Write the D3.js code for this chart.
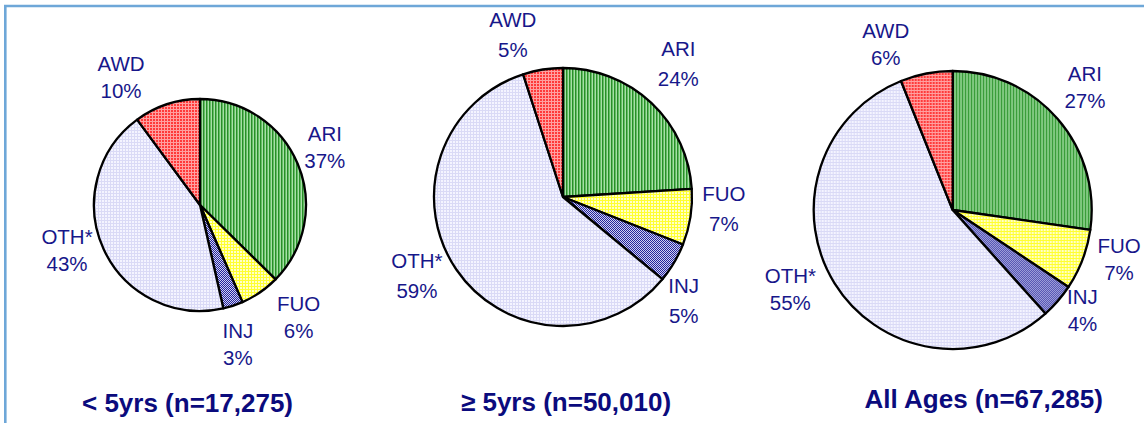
<!DOCTYPE html>
<html>
<head>
<meta charset="utf-8">
<script src="https://cdn.jsdelivr.net/npm/d3@7"></script>
<style>
  html, body { margin: 0; padding: 0; background: #ffffff; }
  svg { display: block; }
</style>
</head>
<body>
<svg id="chart" width="1144" height="423"></svg>
<script>
// ---- data ----
const categories = ["ARI", "FUO", "INJ", "OTH*", "AWD"];
const under5Values = [37, 6, 3, 43, 10];
const over5Values = [24, 7, 5, 59, 5];
const allAgesValues = [27, 7, 4, 55, 6];
const pieTitles = ["< 5yrs (n=17,275)", "\u2265 5yrs (n=50,010)", "All Ages (n=67,285)"];
const seriesList = [under5Values, over5Values, allAgesValues];

// ---- layout ----
const layout = [
  { cx: 200, cy: 205, r: 106, gap: 27, titleX: 187.5, titleY: 411.5,
    nudge: [[-8, -2], [17, -6], [-7, 3], [-2, -14], [-34, 9]] },
  { cx: 563, cy: 197, r: 129, gap: 30, titleX: 566, titleY: 410.5,
    nudge: [[1, -11], [-4, -14], [-23, 19], [-8, -15], [-24, 3]] },
  { cx: 952.7, cy: 210, r: 139, gap: 27, titleX: 983.7, titleY: 408.3,
    nudge: [[-1.5, -7], [1, -14], [-4, -15.5], [-12, -14], [-33.5, 8]] }
];
const labelColor = "#17178a";
const titleColor = "#0b0b7d";

const svg = d3.select("#chart");
const defs = svg.append("defs");

// patterns
function pat(id, w, h, bg, rects) {
  const p = defs.append("pattern").attr("id", id).attr("patternUnits", "userSpaceOnUse")
    .attr("width", w).attr("height", h);
  p.append("rect").attr("width", w).attr("height", h).attr("fill", bg);
  rects.forEach(([x, y, rw, rh, c]) => p.append("rect").attr("x", x).attr("y", y)
    .attr("width", rw).attr("height", rh).attr("fill", c));
}
pat("p-ARI", 3, 3, "#62c062", [[0, 0, 1, 3, "#2a8c2a"], [2, 0, 1, 3, "#a8dea8"]]);
pat("p-FUO", 3, 3, "#ffff30", [[1, 1, 2, 2, "#ffffc8"]]);
pat("p-INJ", 2, 2, "#d0d0f2", [[0, 0, 1, 1, "#24249a"], [1, 1, 1, 1, "#24249a"]]);
pat("p-OTH", 3, 3, "#f4f4ff", [[0, 0, 3, 1, "#dadaf6"], [0, 0, 1, 3, "#dadaf6"]]);
pat("p-AWD", 3, 3, "#ff3a3a", [[0, 0, 3, 1, "#ffa0a0"], [0, 0, 1, 3, "#ffa0a0"]]);
const patIds = ["p-ARI", "p-FUO", "p-INJ", "p-OTH", "p-AWD"];

// frame
svg.append("path")
  .attr("d", "M5.3,430 L5.3,6 L1150,6")
  .attr("fill", "none").attr("stroke", "#6ea7d8").attr("stroke-width", 2.6);

const pie = d3.pie().sort(null).value(d => d.value);

seriesList.forEach((vals, pi) => {
  const L = layout[pi];
  const data = categories.map((c, i) => ({ cat: c, value: vals[i], idx: i }));
  const arcs = pie(data);
  const arc = d3.arc().innerRadius(0).outerRadius(L.r);
  const labelArc = d3.arc().innerRadius(L.r + 38).outerRadius(L.r + 38);
  const g = svg.append("g").attr("transform", `translate(${L.cx},${L.cy})`);

  g.selectAll("path.slice").data(arcs).enter().append("path")
    .attr("class", "slice")
    .attr("d", arc)
    .attr("fill", d => `url(#${patIds[d.data.idx]})`)
    .attr("stroke", "#000").attr("stroke-width", 2.3).attr("stroke-linejoin", "round");

  const lab = g.selectAll("text.lab").data(arcs).enter().append("text")
    .attr("class", "lab")
    .attr("text-anchor", "middle")
    .attr("font-family", "'Liberation Sans', Arial, sans-serif")
    .attr("font-size", 20.5)
    .attr("fill", labelColor);
  lab.each(function(d) {
    const c = labelArc.centroid(d);
    const n = L.nudge[d.data.idx];
    const x = c[0] + n[0], y = c[1] + n[1];
    const t = d3.select(this);
    t.append("tspan").attr("x", x).attr("y", y - L.gap / 2 + 7).text(d.data.cat);
    t.append("tspan").attr("x", x).attr("y", y + L.gap / 2 + 7)
      .text(d3.format(".0f")(d.data.value) + "%");
  });

  svg.append("text")
    .attr("x", L.titleX).attr("y", L.titleY)
    .attr("text-anchor", "middle")
    .attr("font-family", "'Liberation Sans', Arial, sans-serif")
    .attr("font-weight", "bold")
    .attr("font-size", 26)
    .attr("fill", titleColor)
    .text(pieTitles[pi]);
});
</script>
</body>
</html>
